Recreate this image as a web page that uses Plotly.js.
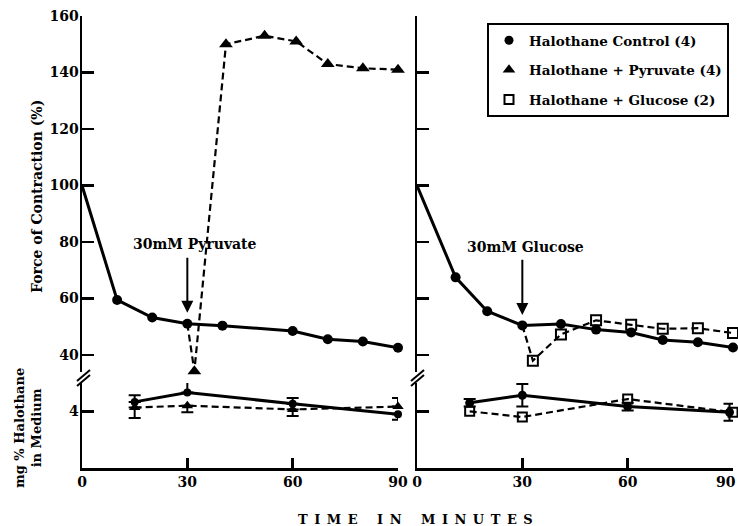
<!DOCTYPE html>
<html>
<head>
<meta charset="utf-8">
<script src="https://cdn.plot.ly/plotly-3.0.1.min.js"></script>
<style>html,body{margin:0;padding:0;background:#fff;}#chart{width:738px;height:526px;}</style>
</head>
<body>
<div id="chart"></div>
<script>
// ---- Data ----
// Upper left: Force of contraction (%)
const ctrlL_x = [0, 10, 20, 30, 40, 60, 70, 80, 90];
const ctrlL_y = [100, 59.5, 53.3, 51.1, 50.4, 48.5, 45.6, 44.8, 42.6];
const pyrL_x = [30, 32, 41, 52, 61, 70, 80, 90];
const pyrL_y = [51.1, 34.3, 150, 153, 151, 143, 141.5, 141];
// Upper right
const ctrlR_x = [0, 11, 20, 30, 41, 51, 61, 70, 80, 90];
const ctrlR_y = [100, 67.5, 55.5, 50.5, 51, 49, 48, 45.3, 44.5, 42.7];
const gluR_x = [30, 33, 41, 51, 61, 70, 80, 90];
const gluR_y = [50.5, 38, 47.3, 52.3, 50.7, 49.3, 49.5, 47.8];
// Lower left: mg% halothane in medium
const halCtrlL_x = [15, 30, 60, 90];
const halCtrlL_y = [4.5, 5.0, 4.4, 3.85];
const halCtrlL_up = [0.35, 0.55, 0.3, 0];
const halCtrlL_dn = [0, 0, 0, 0.3];
const halPyrL_x = [15, 30, 60, 90];
const halPyrL_y = [4.2, 4.3, 4.1, 4.25];
const halPyrL_up = [0, 0, 0, 0.45];
const halPyrL_dn = [0.55, 0.35, 0.35, 0];
// Lower right
const halCtrlR_x = [15, 30, 60, 89];
const halCtrlR_y = [4.45, 4.85, 4.25, 3.95];
const halCtrlR_err = [0.2, 0.6, 0.2, 0.45];
const halGluR_x = [15, 30, 60, 90];
const halGluR_y = [4.0, 3.7, 4.65, 3.95];
// Tick labels
const xTicks = [0, 30, 60, 90];
const forceTicks = [40, 60, 80, 100, 120, 140, 160];
const halTicks = [4];
const seriesNames = ['Halothane Control (4)', 'Halothane + Pyruvate (4)', 'Halothane + Glucose (2)'];

// ---- Helpers for layout positions ----
const W = 738, H = 526;
const px = v => v / W;
const py = v => 1 - v / H;

const black = '#000';
const solid = {color: black, width: 3};
const dashed = {color: black, width: 2.2, dash: '7px,4px'};
const circ = s => ({symbol: 'circle', size: s, color: black, opacity: 1, line: {width: 0}});
const tri = s => ({symbol: 'triangle-up', size: s, color: black, opacity: 1, line: {width: 0}});
const sq = s => ({symbol: 'square-open', size: s, color: black, opacity: 1, line: {width: 2, color: black}});

// line through all points, markers on all but the first (start point)
function series(x, y, xa, ya, line, marker) {
  return [
    {x: x, y: y, xaxis: xa, yaxis: ya, mode: 'lines', line: line, showlegend: false, cliponaxis: false},
    {x: x.slice(1), y: y.slice(1), xaxis: xa, yaxis: ya, mode: 'markers', marker: marker, showlegend: false, cliponaxis: false}
  ];
}

const traces = [].concat(
  series(ctrlL_x, ctrlL_y, 'x', 'y', solid, circ(10)),
  series(pyrL_x, pyrL_y, 'x', 'y', dashed, tri(12)),
  series(ctrlR_x, ctrlR_y, 'x2', 'y3', solid, circ(10)),
  series(gluR_x, gluR_y, 'x2', 'y3', dashed, sq(10)),
  [
  // lower left
  {x: halCtrlL_x, y: halCtrlL_y, xaxis: 'x', yaxis: 'y2', mode: 'lines+markers', line: solid, marker: circ(8),
   error_y: {type: 'data', symmetric: false, array: halCtrlL_up, arrayminus: halCtrlL_dn, color: black, thickness: 2, width: 6},
   showlegend: false, cliponaxis: false},
  {x: halPyrL_x, y: halPyrL_y, xaxis: 'x', yaxis: 'y2', mode: 'lines+markers', line: dashed, marker: tri(10),
   error_y: {type: 'data', symmetric: false, array: halPyrL_up, arrayminus: halPyrL_dn, color: black, thickness: 2, width: 6},
   showlegend: false, cliponaxis: false},
  // lower right
  {x: halCtrlR_x, y: halCtrlR_y, xaxis: 'x2', yaxis: 'y4', mode: 'lines+markers', line: solid, marker: circ(9),
   error_y: {type: 'data', array: halCtrlR_err, color: black, thickness: 2, width: 6},
   showlegend: false, cliponaxis: false},
  {x: halGluR_x, y: halGluR_y, xaxis: 'x2', yaxis: 'y4', mode: 'lines+markers', line: dashed, marker: sq(9),
   showlegend: false, cliponaxis: false},
  // legend entries (markers only)
  {x: [null], y: [null], xaxis: 'x', yaxis: 'y', mode: 'markers', marker: circ(9), name: seriesNames[0], legendgroup: 'a'},
  {x: [null], y: [null], xaxis: 'x', yaxis: 'y', mode: 'markers', marker: tri(11), name: seriesNames[1], legendgroup: 'b'},
  {x: [null], y: [null], xaxis: 'x', yaxis: 'y', mode: 'markers', marker: sq(9), name: seriesNames[2], legendgroup: 'c'}
  ]
);

const tickFont = {family: 'DejaVu Serif', size: 14, color: black, weight: 'bold'};
const axBase = {showline: true, linecolor: black, linewidth: 2.5, ticks: 'inside', tickcolor: black, tickwidth: 2.5,
  showgrid: false, zeroline: false, tickfont: tickFont, fixedrange: true, ticklabeloverflow: 'allow'};

const upperDom = [py(372), py(16)];
const lowerDom = [py(468), py(383)];

// right panel: last tick label is placed as an annotation so it stays inside the page edge
const xTicksR_text = xTicks.map((v, i) => i === xTicks.length - 1 ? '' : String(v));

const layout = {
  width: W, height: H,
  margin: {l: 0, r: 0, t: 0, b: 0},
  paper_bgcolor: '#fff', plot_bgcolor: 'rgba(0,0,0,0)',
  font: {family: 'DejaVu Serif', color: black},
  xaxis: Object.assign({}, axBase, {domain: [px(82), px(398)], range: [0, 90], anchor: 'y2',
    tickmode: 'array', tickvals: xTicks, ticktext: xTicks.map(String), ticklen: 10}),
  xaxis2: Object.assign({}, axBase, {domain: [px(417), px(733)], range: [0, 90], anchor: 'y4',
    tickmode: 'array', tickvals: xTicks, ticktext: xTicksR_text, ticklen: 10}),
  yaxis: Object.assign({}, axBase, {domain: upperDom, range: [34, 160], anchor: 'x',
    tickmode: 'array', tickvals: forceTicks, ticktext: forceTicks.map(String), ticklen: 12, ticklabelstandoff: -2}),
  yaxis2: Object.assign({}, axBase, {domain: lowerDom, range: [1, 5.5], anchor: 'x',
    tickmode: 'array', tickvals: halTicks, ticktext: halTicks.map(String), ticklen: 12, ticklabelstandoff: -2}),
  yaxis3: Object.assign({}, axBase, {domain: upperDom, range: [34, 160], anchor: 'x2',
    tickmode: 'array', tickvals: forceTicks, showticklabels: false, ticklen: 12}),
  yaxis4: Object.assign({}, axBase, {domain: lowerDom, range: [1, 5.5], anchor: 'x2',
    tickmode: 'array', tickvals: halTicks, showticklabels: false, ticklen: 12}),
  showlegend: true,
  legend: {x: px(487), y: py(23), xanchor: 'left', yanchor: 'top', bordercolor: black, borderwidth: 2,
    bgcolor: '#fff', font: {family: 'DejaVu Serif', size: 13.5, color: black, weight: 'bold'},
    tracegroupgap: 9, itemwidth: 30},
  annotations: [
    {xref: 'x', yref: 'y', x: 32.2, y: 79.3, text: '30mM Pyruvate', showarrow: false,
     font: {family: 'DejaVu Serif', size: 14, color: black, weight: 'bold'}},
    {xref: 'x', yref: 'y', x: 30, y: 55, axref: 'x', ayref: 'y', ax: 30, ay: 75, text: '', showarrow: true,
     arrowhead: 2, arrowsize: 1.2, arrowwidth: 2, arrowcolor: black},
    {xref: 'x2', yref: 'y3', x: 31, y: 78.2, text: '30mM Glucose', showarrow: false,
     font: {family: 'DejaVu Serif', size: 14, color: black, weight: 'bold'}},
    {xref: 'x2', yref: 'y3', x: 30, y: 54.2, axref: 'x2', ayref: 'y3', ax: 30, ay: 74.3, text: '', showarrow: true,
     arrowhead: 2, arrowsize: 1.2, arrowwidth: 2, arrowcolor: black},
    {xref: 'paper', yref: 'paper', x: px(37), y: py(197), xanchor: 'center', yanchor: 'middle',
     text: 'Force of Contraction (%)', textangle: -90,
     showarrow: false, font: {family: 'DejaVu Serif', size: 14, color: black, weight: 'bold'}},
    {xref: 'paper', yref: 'paper', x: px(28), y: py(428), xanchor: 'center', yanchor: 'middle',
     text: 'mg % Halothane<br>in Medium', textangle: -90,
     showarrow: false, font: {family: 'DejaVu Serif', size: 13, color: black, weight: 'bold'}},
    {xref: 'paper', yref: 'paper', x: px(416), y: py(519), xanchor: 'center', yanchor: 'middle',
     text: 'T\u2002I\u2002M\u2002E\u2003\u2002I\u2002N\u2003\u2002M\u2002I\u2002N\u2002U\u2002T\u2002E\u2002S',
     showarrow: false, font: {family: 'DejaVu Serif', size: 13, color: black, weight: 'bold'}},
    {xref: 'paper', yref: 'paper', x: px(737), y: py(482), xanchor: 'right', yanchor: 'middle',
     text: String(xTicks[xTicks.length - 1]), showarrow: false, borderpad: 0,
     font: {family: 'DejaVu Serif', size: 14, color: black, weight: 'bold'}}
  ],
  shapes: [
    {type: 'line', xref: 'paper', yref: 'paper', x0: px(77), y0: py(381), x1: px(90), y1: py(370), line: {color: black, width: 2}},
    {type: 'line', xref: 'paper', yref: 'paper', x0: px(77), y0: py(386), x1: px(90), y1: py(375), line: {color: black, width: 2}},
    {type: 'line', xref: 'paper', yref: 'paper', x0: px(411), y0: py(381), x1: px(424), y1: py(370), line: {color: black, width: 2}},
    {type: 'line', xref: 'paper', yref: 'paper', x0: px(411), y0: py(386), x1: px(424), y1: py(375), line: {color: black, width: 2}}
  ]
};

Plotly.newPlot('chart', traces, layout, {staticPlot: true, displayModeBar: false});
</script>
</body>
</html>
